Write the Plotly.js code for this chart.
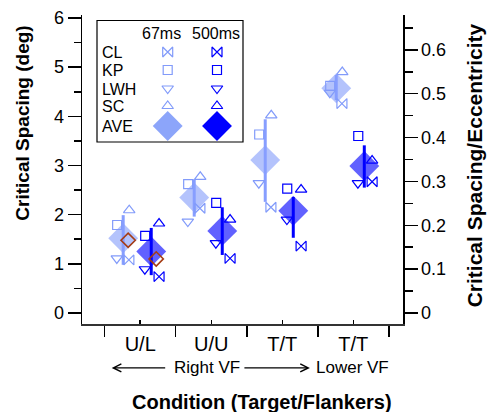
<!DOCTYPE html>
<html><head><meta charset="utf-8">
<script src="https://cdn.plot.ly/plotly-3.0.1.min.js"></script>
<style>html,body{margin:0;padding:0;background:#fff}#chart{width:488px;height:412px}</style>
</head><body><div id="chart"></div>
<script>
// ---- data ----
const conditions = ['U/L', 'U/U', 'T/T', 'T/T'];
// 67 ms (light)
const CL_67  = [1.08, 2.13, 2.15, 4.26];
const KP_67  = [1.79, 2.62, 3.63, 4.62];
const LWH_67 = [1.11, 1.86, 2.64, 4.48];
const SC_67  = [2.09, 2.77, 4.02, 4.90];
const AVE_67 = [1.52, 2.35, 3.11, 4.57];
const ERR_HI_67 = [1.99, 2.72, 3.94, 4.84];
const ERR_LO_67 = [0.98, 1.96, 2.26, 4.33];
// 500 ms (dark)
const CL_500  = [0.74, 1.11, 1.36, 2.67];
const KP_500  = [1.57, 2.24, 2.53, 3.60];
const LWH_500 = [0.89, 1.42, 1.90, 2.64];
const SC_500  = [1.82, 1.90, 2.51, 3.10];
const AVE_500 = [1.25, 1.67, 2.08, 2.99];
const ERR_HI_500 = [1.73, 2.15, 2.36, 3.41];
const ERR_LO_500 = [0.77, 1.18, 1.53, 2.55];
// extra open diamonds (U/L only): 67 ms, 500 ms
const EXTRA_UL = [1.48, 1.10];
const rightTicks = [0, 0.1, 0.2, 0.3, 0.4, 0.5, 0.6];
const eccentricity = 8.92;

// ---- styling ----
const LIGHT = 'rgb(130,155,250)';
const LIGHT_LEG = 'rgb(140,165,250)';
const DARK = 'rgb(0,0,255)';
const BROWN = 'rgb(165,60,20)';
const FONT = 'Liberation Sans, Arial, sans-serif';

const idx = conditions.map((c, i) => i);
const xL = idx.map(i => i - 0.24);
const xD = idx.map(i => i + 0.155);
const shift = (arr, d) => arr.map(v => v + d);

const traces = [];
function ave(x, y, color, op) {
  traces.push({x, y, type: 'scatter', mode: 'markers', hoverinfo: 'skip',
    marker: {symbol: 'diamond', size: 23, color, opacity: op, line: {width: 0}}});
}
function bars(x, y, hi, lo, color) {
  traces.push({x, y, type: 'scatter', mode: 'markers', hoverinfo: 'skip',
    marker: {size: 1, color: 'rgba(0,0,0,0)'},
    error_y: {type: 'data', symmetric: false,
      array: hi.map((h, i) => h - y[i]), arrayminus: lo.map((l, i) => y[i] - l),
      color, thickness: 3, width: 0}});
}
function pts(x, y, symbol, color, size) {
  traces.push({x, y, type: 'scatter', mode: 'markers', hoverinfo: 'skip',
    marker: {symbol, size, color, line: {color, width: 1.2}}});
}
ave(xL, AVE_67, LIGHT, 0.6);
ave(xD, AVE_500, DARK, 0.62);
bars(xL, AVE_67, ERR_HI_67, ERR_LO_67, 'rgb(135,158,255)');
bars(xD, AVE_500, ERR_HI_500, ERR_LO_500, DARK);
pts(shift(xL, -0.085), KP_67, 'square-open', LIGHT, 9);
pts(shift(xL, -0.09), LWH_67, 'triangle-down-open', LIGHT, 10);
pts(shift(xL, 0.08), CL_67, 'bowtie-open', LIGHT, 10);
pts(shift(xL, 0.085), SC_67, 'triangle-up-open', LIGHT, 10);
pts(shift(xD, -0.085), KP_500, 'square-open', DARK, 9);
pts(shift(xD, -0.09), LWH_500, 'triangle-down-open', DARK, 10);
pts(shift(xD, 0.11), CL_500, 'bowtie-open', DARK, 10);
pts(shift(xD, 0.11), SC_500, 'triangle-up-open', DARK, 10);
traces.push({x: [xL[0] + 0.07, xD[0] + 0.07], y: EXTRA_UL, type: 'scatter', mode: 'markers',
  hoverinfo: 'skip', marker: {symbol: 'diamond-open', size: 11, color: BROWN, line: {color: BROWN, width: 1.6}}});

// ---- custom legend (pixel-like overlay axes) ----
const legRows = ['CL', 'KP', 'LWH', 'SC', 'AVE'];
const legSyms = ['bowtie-open', 'square-open', 'triangle-down-open', 'triangle-up-open', 'diamond'];
const legY = [52, 70, 88.5, 106, 126];
const legSize = [10, 9, 10, 10, 23];
legRows.forEach((r, k) => {
  [[167.7, k === 4 ? LIGHT_LEG : LIGHT], [217, DARK]].forEach(([lx, col]) => {
    traces.push({x: [lx], y: [legY[k]], xaxis: 'x3', yaxis: 'y3', type: 'scatter', mode: 'markers',
      hoverinfo: 'skip', marker: {symbol: legSyms[k], size: legSize[k], color: col, line: {color: col, width: k === 4 ? 0 : 1.2}}});
  });
});

const annotations = [];
legRows.forEach((r, k) => annotations.push({xref: 'x3', yref: 'y3', x: 100, y: legY[k] + 0.5, text: r,
  showarrow: false, xanchor: 'left', yanchor: 'middle', font: {family: FONT, size: 16, color: '#000'}}));
annotations.push({xref: 'x3', yref: 'y3', x: 161, y: 33, text: '67ms', showarrow: false, font: {family: FONT, size: 16, color: '#000'}});
annotations.push({xref: 'x3', yref: 'y3', x: 216, y: 33, text: '500ms', showarrow: false, font: {family: FONT, size: 16, color: '#000'}});
// axis titles
annotations.push({xref: 'paper', yref: 'paper', x: -0.1854, y: 0.65, text: '<b>Critical Spacing (deg)</b>', textangle: -90,
  showarrow: false, xanchor: 'center', yanchor: 'middle', font: {family: FONT, size: 19, color: '#000'}});
annotations.push({xref: 'paper', yref: 'paper', x: 1.2227, y: 0.515, text: '<b>Critical Spacing/Eccentricity</b>', textangle: -90,
  showarrow: false, xanchor: 'center', yanchor: 'middle', font: {family: FONT, size: 21, color: '#000'}});
annotations.push({xref: 'paper', yref: 'paper', x: 0.56, y: -0.252, text: '<b>Condition (Target/Flankers)</b>',
  showarrow: false, xanchor: 'center', yanchor: 'middle', font: {family: FONT, size: 20, color: '#000'}});
annotations.push({xref: 'paper', yref: 'paper', x: 0.389, y: -0.142, text: 'Right VF',
  showarrow: false, xanchor: 'center', yanchor: 'middle', font: {family: FONT, size: 17, color: '#000'}});
annotations.push({xref: 'paper', yref: 'paper', x: 0.843, y: -0.142, text: 'Lower VF',
  showarrow: false, xanchor: 'center', yanchor: 'middle', font: {family: FONT, size: 17, color: '#000'}});
annotations.push({xref: 'paper', yref: 'paper', x: 0.0925, y: -0.142, ax: 55, ay: 0, text: '',
  showarrow: true, arrowhead: 5, arrowsize: 1.3, arrowwidth: 1.2, arrowcolor: '#000'});
annotations.push({xref: 'paper', yref: 'paper', x: 0.710, y: -0.142, ax: -67, ay: 0, text: '',
  showarrow: true, arrowhead: 5, arrowsize: 1.3, arrowwidth: 1.2, arrowcolor: '#000'});

const yr = [-0.224, 6.061];
const layout = {
  width: 488, height: 412,
  margin: {l: 82, r: 85, t: 15, b: 88},
  paper_bgcolor: '#fff', plot_bgcolor: '#fff',
  showlegend: false,
  font: {family: FONT, size: 18, color: '#000'},
  xaxis: {range: [-0.82, 3.70], tickmode: 'array', tickvals: idx, ticktext: conditions,
    ticks: 'inside', ticklen: 4, tickwidth: 1.5, tickcolor: '#000',
    showline: true, linecolor: '#333', linewidth: 2, showgrid: false, zeroline: false,
    tickfont: {family: FONT, size: 20, color: '#000'}, ticklabelstandoff: 1,
    minor: {tickmode: 'linear', tick0: -0.5, dtick: 1, ticks: 'outside', ticklen: 11, tickwidth: 1.5, tickcolor: '#000', showgrid: false}},
  yaxis: {range: yr, tickmode: 'linear', tick0: 0, dtick: 1, ticks: 'outside', ticklen: 13, tickwidth: 1.5, tickcolor: '#000',
    showline: true, linecolor: '#000', linewidth: 1.5, showgrid: false, zeroline: false,
    tickfont: {family: FONT, size: 18, color: '#000'},
    minor: {tickmode: 'linear', tick0: 0.5, dtick: 1, ticks: 'outside', ticklen: 7, tickwidth: 1.5, tickcolor: '#000', showgrid: false}},
  yaxis2: {overlaying: 'y', side: 'right', range: yr.map(v => v / eccentricity),
    tickmode: 'array', tickvals: rightTicks, ticktext: rightTicks.map(String),
    ticks: 'outside', ticklen: 13, tickwidth: 1.5, tickcolor: '#000',
    showline: true, linecolor: '#000', linewidth: 1.5, showgrid: false, zeroline: false,
    tickfont: {family: FONT, size: 18, color: '#000'},
    minor: {tickmode: 'linear', tick0: 0.05, dtick: 0.1, ticks: 'outside', ticklen: 8, tickwidth: 1.5, tickcolor: '#000', showgrid: false}},
  xaxis3: {overlaying: 'x', anchor: 'y3', range: [82, 403], visible: false, fixedrange: true},
  yaxis3: {overlaying: 'y', anchor: 'x3', range: [324, 15], visible: false, fixedrange: true},
  shapes: [{type: 'rect', xref: 'x3', yref: 'y3', x0: 97, x1: 243, y0: 20.5, y1: 142, line: {color: '#000', width: 1.2}}],
  annotations
};
// a dummy trace so yaxis2 is drawn
traces.push({x: [null], y: [null], yaxis: 'y2', type: 'scatter', mode: 'markers', hoverinfo: 'skip'});
Plotly.newPlot('chart', traces, layout, {staticPlot: true, displayModeBar: false});
</script>
</body></html>
